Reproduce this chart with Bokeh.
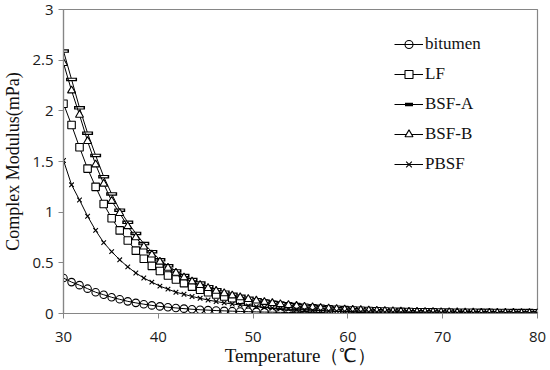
from bokeh.plotting import figure
from bokeh.models import Range1d, FixedTicker, Legend, LegendItem
from bokeh.embed import file_html
from bokeh.resources import INLINE

temps = [30.00, 30.85, 31.69, 32.54, 33.39, 34.24, 35.08, 35.93, 36.78, 37.63,
         38.47, 39.32, 40.17, 41.02, 41.86, 42.71, 43.56, 44.41, 45.25, 46.10,
         46.95, 47.80, 48.64, 49.49, 50.34, 51.19, 52.03, 52.88, 53.73, 54.58,
         55.42, 56.27, 57.12, 57.97, 58.81, 59.66, 60.51, 61.36, 62.20, 63.05,
         63.90, 64.75, 65.59, 66.44, 67.29, 68.14, 68.98, 69.83, 70.68, 71.53,
         72.37, 73.22, 74.07, 74.92, 75.76, 76.61, 77.46, 78.31, 79.15, 80.00]

bitumen = [0.35, 0.31, 0.28, 0.245, 0.21, 0.185, 0.16, 0.14, 0.12, 0.105,
           0.092, 0.08, 0.07, 0.062, 0.055, 0.048, 0.042, 0.037, 0.033, 0.029,
           0.026, 0.023, 0.02, 0.018, 0.016, 0.014, 0.013, 0.011, 0.01, 0.009,
           0.008, 0.007, 0.007, 0.006, 0.006, 0.005, 0.005, 0.004, 0.004, 0.004,
           0.003, 0.003, 0.003, 0.003, 0.002, 0.002, 0.002, 0.002, 0.002, 0.002,
           0.002, 0.002, 0.001, 0.001, 0.001, 0.001, 0.001, 0.001, 0.001, 0.001]

lf = [2.07, 1.86, 1.64, 1.43, 1.25, 1.08, 0.94, 0.82, 0.72, 0.62,
      0.54, 0.47, 0.42, 0.375, 0.335, 0.30, 0.265, 0.235, 0.21, 0.188,
      0.168, 0.15, 0.134, 0.12, 0.108, 0.097, 0.087, 0.078, 0.07, 0.063,
      0.057, 0.051, 0.046, 0.041, 0.037, 0.033, 0.03, 0.027, 0.024, 0.022,
      0.02, 0.018, 0.016, 0.015, 0.013, 0.012, 0.011, 0.01, 0.009, 0.008,
      0.007, 0.007, 0.006, 0.006, 0.005, 0.005, 0.004, 0.004, 0.004, 0.003]

bsf_a = [2.59, 2.31, 2.03, 1.78, 1.56, 1.35, 1.18, 1.02, 0.90, 0.79,
         0.69, 0.61, 0.53, 0.47, 0.42, 0.375, 0.335, 0.30, 0.265, 0.235,
         0.21, 0.19, 0.17, 0.15, 0.135, 0.12, 0.108, 0.097, 0.087, 0.078,
         0.07, 0.063, 0.057, 0.051, 0.046, 0.041, 0.037, 0.033, 0.03, 0.027,
         0.024, 0.022, 0.02, 0.018, 0.016, 0.015, 0.013, 0.012, 0.011, 0.01,
         0.009, 0.008, 0.007, 0.007, 0.006, 0.006, 0.005, 0.005, 0.004, 0.004]

bsf_b = [2.47, 2.20, 1.96, 1.70, 1.47, 1.28, 1.11, 0.99, 0.86, 0.75,
         0.66, 0.58, 0.51, 0.45, 0.40, 0.355, 0.315, 0.28, 0.25, 0.222,
         0.198, 0.177, 0.158, 0.141, 0.126, 0.113, 0.101, 0.091, 0.082, 0.074,
         0.066, 0.06, 0.054, 0.048, 0.043, 0.039, 0.035, 0.032, 0.029, 0.026,
         0.023, 0.021, 0.019, 0.017, 0.015, 0.014, 0.013, 0.012, 0.011, 0.01,
         0.009, 0.008, 0.007, 0.006, 0.006, 0.005, 0.005, 0.004, 0.004, 0.004]

pbsf = [1.51, 1.27, 1.12, 0.96, 0.82, 0.70, 0.61, 0.53, 0.46, 0.40,
        0.35, 0.31, 0.27, 0.24, 0.21, 0.19, 0.168, 0.15, 0.133, 0.118,
        0.105, 0.094, 0.084, 0.075, 0.067, 0.06, 0.054, 0.048, 0.043, 0.039,
        0.035, 0.031, 0.028, 0.025, 0.023, 0.021, 0.019, 0.017, 0.015, 0.014,
        0.013, 0.012, 0.011, 0.01, 0.009, 0.008, 0.007, 0.007, 0.006, 0.006,
        0.005, 0.005, 0.004, 0.004, 0.004, 0.003, 0.003, 0.003, 0.003, 0.002]

x_ticks = [30, 40, 50, 60, 70, 80]
y_ticks = [0, 0.5, 1, 1.5, 2, 2.5, 3]
y_tick_labels = ["0", "0.5", "1", "1.5", "2", "2.5", "3"]

AXIS_GRAY = "#868686"
TICK_FONT = "Open Sans"
SERIF = "Liberation Serif"

p = figure(width=550, height=370, output_backend="svg", toolbar_location=None,
           x_range=Range1d(30, 80), y_range=Range1d(0, 3),
           min_border_left=63, min_border_right=13, min_border_top=9, min_border_bottom=57)
p.xgrid.visible = False
p.ygrid.visible = False
p.outline_line_color = AXIS_GRAY
p.outline_line_width = 1.2

for ax in (p.xaxis[0], p.yaxis[0]):
    ax.axis_line_color = AXIS_GRAY
    ax.axis_line_width = 1.2
    ax.major_tick_line_color = AXIS_GRAY
    ax.minor_tick_line_color = None
    ax.major_tick_in = 0
    ax.major_tick_out = 5
    ax.major_label_text_font = TICK_FONT
    ax.major_label_text_font_size = "15px"
    ax.major_label_text_color = "#1a1a1a"
    ax.axis_label_text_font = SERIF
    ax.axis_label_text_font_style = "normal"
    ax.axis_label_text_font_size = "19px"
    ax.axis_label_text_color = "#111111"

p.yaxis.axis_label_text_font_size = "18px"
p.xaxis.ticker = FixedTicker(ticks=x_ticks)
p.yaxis.ticker = FixedTicker(ticks=y_ticks)
p.yaxis.major_label_overrides = {t: l for t, l in zip(y_ticks, y_tick_labels)}
p.xaxis.axis_label = "Temperature（℃）"
p.yaxis.axis_label = "Complex Modulus(mPa)"
p.xaxis.major_label_standoff = 13
p.yaxis.major_label_standoff = 5
p.xaxis.axis_label_standoff = 0
p.yaxis.axis_label_standoff = 6

items = []

l1 = p.line(temps, bitumen, line_color="black", line_width=1)
m1 = p.scatter(temps, bitumen, marker="circle", size=7.5, fill_alpha=0, line_color="black", line_width=1.1)
items.append(LegendItem(label="bitumen", renderers=[l1, m1]))

l2 = p.line(temps, lf, line_color="black", line_width=1)
m2 = p.scatter(temps, lf, marker="square", size=7.5, fill_color="white", line_color="black", line_width=1.1)
items.append(LegendItem(label="LF", renderers=[l2, m2]))

l3 = p.line(temps, bsf_a, line_color="black", line_width=1)
m3a = p.scatter(temps, bsf_a, marker="dash", size=11, line_color="black", line_width=3.5)
m3b = p.scatter(temps, bsf_a, marker="dash", size=8, line_color="white", line_width=1.2)
items.append(LegendItem(label="BSF-A", renderers=[l3, m3a]))

l4 = p.line(temps, bsf_b, line_color="black", line_width=1)
m4 = p.scatter(temps, bsf_b, marker="triangle", size=8, fill_color="white", line_color="black", line_width=1.1)
items.append(LegendItem(label="BSF-B", renderers=[l4, m4]))

l5 = p.line(temps, pbsf, line_color="black", line_width=1)
m5 = p.scatter(temps, pbsf, marker="x", size=6.5, line_color="black", line_width=1.1)
items.append(LegendItem(label="PBSF", renderers=[l5, m5]))

legend = Legend(items=items, location=(331, 139), padding=0, spacing=10,
                glyph_width=29, glyph_height=20, label_height=20, label_standoff=2,
                border_line_color=None, background_fill_alpha=0,
                label_text_font=SERIF, label_text_font_size="17px", label_text_color="#111111")
p.add_layout(legend, "center")

open("out.html", "w").write(file_html(p, INLINE))
